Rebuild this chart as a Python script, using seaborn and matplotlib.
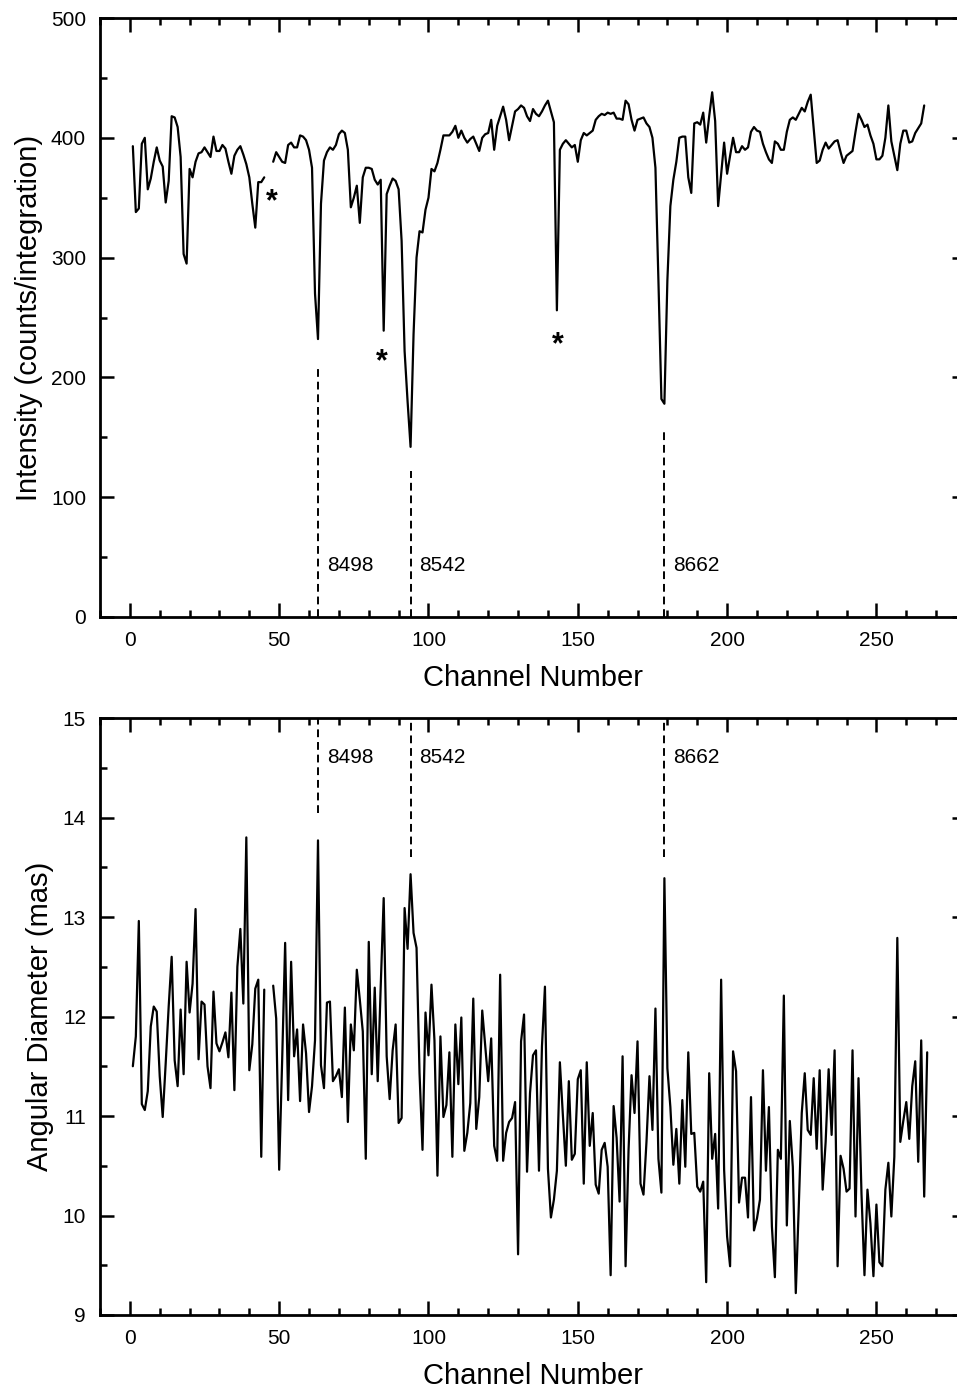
import numpy as np
import pandas as pd
import matplotlib
matplotlib.use("Agg")
import matplotlib.pyplot as plt
import seaborn as sns
from matplotlib.ticker import MultipleLocator

# intensity per channel (channels 1..266), 46 and 47 missing
intensity = [
    393, 338, 341, 395, 400, 357, 366, 380, 392, 381,
    376, 346, 364, 418, 417, 409, 384, 303, 295, 374,
    367, 380, 387, 388, 392, 388, 384, 401, 389, 389,
    394, 391, 380, 370, 385, 390, 393, 386, 378, 367,
    345, 325, 363, 363, 367, np.nan, np.nan, 380, 388, 384,
    380, 379, 394, 396, 392, 392, 402, 401, 398, 390,
    375, 270, 232, 345, 381, 388, 392, 390, 394, 403,
    406, 404, 390, 342, 350, 360, 329, 367, 375, 375,
    374, 365, 361, 365, 239, 353, 360, 366, 364, 357,
    314, 222, 180, 142, 236, 300, 322, 321, 340, 350,
    374, 372, 379, 390, 402, 402, 402, 405, 410, 400,
    406, 400, 396, 399, 401, 395, 389, 400, 403, 404,
    415, 390, 410, 418, 426, 415, 398, 410, 422, 424,
    427, 425, 418, 414, 424, 420, 418, 422, 427, 431,
    422, 413, 256, 390, 395, 398, 395, 392, 394, 380,
    398, 404, 402, 404, 406, 415, 418, 420, 419, 421,
    420, 421, 416, 416, 415, 431, 428, 415, 406, 415,
    416, 417, 412, 409, 400, 375, 281, 182, 178, 281,
    343, 365, 380, 400, 401, 401, 367, 354, 412, 413,
    411, 421, 396, 418, 438, 414, 343, 370, 396, 370,
    385, 400, 388, 388, 393, 390, 392, 405, 409, 406,
    405, 395, 388, 382, 379, 397, 395, 390, 390, 405,
    415, 417, 415, 420, 425, 422, 430, 436, 408, 379,
    381, 390, 396, 391, 394, 397, 398, 388, 379, 385,
    387, 389, 405, 420, 415, 409, 411, 402, 395, 382,
    382, 385, 400, 427, 397, 385, 373, 395, 406, 406,
    396, 397, 404, 408, 412, 427,
]

# angular diameter per channel (channels 1..267), 46 and 47 missing
diameter = [
    11.50, 11.80, 12.96, 11.12, 11.06, 11.25, 11.90, 12.10, 12.05, 11.40,
    10.99, 11.53, 12.10, 12.60, 11.56, 11.30, 12.07, 11.42, 12.55, 12.04,
    12.33, 13.08, 11.57, 12.15, 12.12, 11.50, 11.28, 12.25, 11.73, 11.65,
    11.74, 11.84, 11.59, 12.24, 11.26, 12.50, 12.88, 12.13, 13.80, 11.46,
    11.72, 12.28, 12.37, 10.59, 12.27, np.nan, np.nan, 12.31, 11.98, 10.46,
    11.56, 12.74, 11.16, 12.55, 11.60, 11.87, 11.15, 11.92, 11.63, 11.04,
    11.30, 11.76, 13.77, 11.51, 11.28, 12.14, 12.15, 11.35, 11.40, 11.47,
    11.19, 12.09, 10.94, 11.92, 11.66, 12.47, 12.17, 11.85, 10.57, 12.75,
    11.42, 12.29, 11.35, 12.30, 13.19, 11.60, 11.17, 11.66, 11.92, 10.93,
    10.98, 13.09, 12.68, 13.43, 12.84, 12.69, 11.43, 10.66, 12.04, 11.61,
    12.32, 11.76, 10.40, 11.80, 10.99, 11.11, 11.64, 10.59, 11.92, 11.32,
    11.99, 10.65, 10.83, 11.13, 12.18, 10.87, 11.19, 12.06, 11.70, 11.35,
    11.78, 10.70, 10.55, 12.42, 10.55, 10.83, 10.94, 10.98, 11.14, 9.61,
    11.75, 12.02, 10.44, 11.23, 11.61, 11.66, 10.45, 11.70, 12.30, 10.47,
    9.98, 10.16, 10.45, 11.54, 11.01, 10.50, 11.35, 10.56, 10.62, 11.37,
    11.46, 10.32, 11.54, 10.70, 11.03, 10.31, 10.22, 10.66, 10.73, 10.49,
    9.40, 11.10, 10.78, 10.14, 11.60, 9.49, 10.66, 11.41, 11.03, 11.75,
    10.32, 10.21, 10.74, 11.40, 10.86, 12.08, 10.57, 10.23, 13.39, 11.48,
    11.09, 10.51, 10.87, 10.32, 11.16, 10.49, 11.64, 10.82, 10.83, 10.29,
    10.24, 10.34, 9.33, 11.43, 10.57, 10.82, 10.07, 12.37, 10.46, 9.79,
    9.49, 11.65, 11.45, 10.13, 10.38, 10.38, 9.98, 11.19, 9.85, 9.97,
    10.16, 11.46, 10.45, 11.09, 9.89, 9.38, 10.66, 10.57, 12.21, 9.90,
    10.95, 10.49, 9.22, 10.09, 11.03, 11.43, 10.86, 10.81, 11.38, 10.67,
    11.46, 10.26, 10.74, 11.47, 10.81, 11.66, 9.49, 10.60, 10.47, 10.24,
    10.27, 11.66, 9.99, 11.38, 10.22, 9.40, 10.26, 9.92, 9.39, 10.11,
    9.53, 9.49, 10.26, 10.53, 9.99, 10.59, 12.79, 10.74, 10.95, 11.14,
    10.77, 11.30, 11.55, 10.54, 11.76, 10.19, 11.64,
]

# Ca II triplet lines (channel, wavelength label)
line_channels = [63, 94, 179]
line_labels = ["8498", "8542", "8662"]
line_top_intensity = [210, 122, 156]
line_bottom_diameter = [14.05, 13.6, 13.6]

# bad channels marked with asterisks (channel, intensity)
star_channels = [47.6, 84.4, 143.4]
star_values = [346, 213, 227]


def make_frame(values):
    df = pd.DataFrame({"channel": np.arange(1, len(values) + 1), "value": values})
    # split into segments at the missing channels so the gap stays visible
    df["segment"] = df["value"].isna().cumsum()
    return df.dropna()


sns.set_style("ticks")
plt.rcParams["font.family"] = ["Liberation Sans", "DejaVu Sans"]
plt.rcParams.update({
    "text.color": "black",
    "axes.labelcolor": "black",
    "axes.edgecolor": "black",
    "xtick.color": "black",
    "ytick.color": "black",
})

fig = plt.figure(figsize=(9.57, 13.91), dpi=100)
ax1 = fig.add_axes([100 / 957, 1 - 617 / 1391, 866 / 957, 599 / 1391])
ax2 = fig.add_axes([100 / 957, 1 - 1315 / 1391, 866 / 957, 597 / 1391])

df_top = make_frame(intensity)
df_bot = make_frame(diameter)

sns.lineplot(data=df_top, x="channel", y="value", units="segment", estimator=None,
             color="black", lw=1.6, ax=ax1)
sns.lineplot(data=df_bot, x="channel", y="value", units="segment", estimator=None,
             color="black", lw=1.6, ax=ax2)

for ch, lab, top in zip(line_channels, line_labels, line_top_intensity):
    ax1.plot([ch, ch], [0, top], color="black", lw=1.4, dashes=(4, 2.5))
    ax1.text(ch + 3, 43, lab, fontsize=15, ha="left", va="center")
for ch, lab, bot in zip(line_channels, line_labels, line_bottom_diameter):
    ax2.plot([ch, ch], [bot, 15], color="black", lw=1.4, dashes=(4, 2.5))
    ax2.text(ch + 3, 14.6, lab, fontsize=15, ha="left", va="center")

for ch, v in zip(star_channels, star_values):
    ax1.text(ch, v, "*", fontsize=22, fontweight="bold", ha="center", va="center")

ax1.set_ylim(0, 500)
ax2.set_ylim(9, 15)
ax1.yaxis.set_major_locator(MultipleLocator(100))
ax1.yaxis.set_minor_locator(MultipleLocator(50))
ax2.yaxis.set_major_locator(MultipleLocator(1))
ax2.yaxis.set_minor_locator(MultipleLocator(0.5))

for ax in (ax1, ax2):
    ax.set_xlim(-10, 280)
    ax.xaxis.set_major_locator(MultipleLocator(50))
    ax.xaxis.set_minor_locator(MultipleLocator(10))
    ax.tick_params(which="both", direction="in", top=True, right=True, width=1.8,
                   labelsize=15, pad=10, colors="black")
    ax.tick_params(which="major", length=10)
    ax.tick_params(which="minor", length=5)
    for sp in ax.spines.values():
        sp.set_linewidth(2.0)
        sp.set_color("black")
        sp.set_visible(True)
    ax.set_xlabel("Channel Number", fontsize=21, labelpad=10)

ax1.set_ylabel("Intensity (counts/integration)", fontsize=21, labelpad=6)
ax2.set_ylabel("Angular Diameter (mas)", fontsize=21, labelpad=6)

fig.savefig("out.png", dpi=100)
